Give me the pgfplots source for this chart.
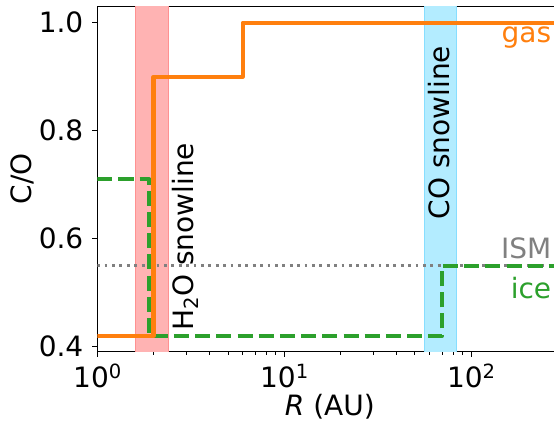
\documentclass[border=0pt]{standalone}
\usepackage{fontspec}
\setmainfont{DejaVu Sans}
\usepackage{pgfplots}
\pgfplotsset{compat=1.18}

\definecolor{gasorange}{HTML}{FF7F0E}
\definecolor{icegreen}{HTML}{2CA02C}
\definecolor{ismgray}{HTML}{808080}
\definecolor{hwband}{RGB}{255,179,179}
\definecolor{hwedge}{RGB}{255,145,145}
\definecolor{coband}{RGB}{179,236,255}
\definecolor{coedge}{RGB}{135,222,255}

\newcommand{\labelfont}{\fontsize{28}{33}\selectfont}
\newcommand{\tenpow}[1]{10\raisebox{9pt}{\fontsize{19.6}{22}\selectfont #1}}

\begin{document}
\begin{tikzpicture}[font=\labelfont]
\begin{axis}[
  name=ax,
  scale only axis,
  width=458.7pt, height=345.4pt,
  xmode=log, xmin=1, xmax=284.7,
  ymin=0.3907, ymax=1.0304,
  xtick={1,10,100},
  xticklabels={\tenpow{0},\tenpow{1},\tenpow{2}},
  ytick={0.4,0.6,0.8,1.0},
  yticklabels={0.4,0.6,0.8,1.0},
  tick align=outside,
  tick pos=left,
  major tick length=5pt,
  minor tick length=3pt,
  every tick/.style={black, line width=1.1pt},
  every minor tick/.append style={line width=0.85pt},
  axis line style={black, line width=1.1pt},
  tick label style={font=\labelfont},
  xticklabel style={anchor=base, inner sep=0pt, yshift=-31pt},
  yticklabel style={anchor=east, inner sep=0pt, xshift=-8.8pt},
  xlabel={\textit{R} (AU)},
  ylabel={C/O},
  every axis x label/.style={at={(axis description cs:0.507,-0.1833)}, anchor=base, inner sep=0pt, font=\labelfont},
  every axis y label/.style={at={(axis description cs:-0.1635,0.5)}, rotate=90, anchor=center, inner sep=0pt, font=\labelfont},
]

% snowline bands
\addplot[fill=hwband, draw=hwedge, line width=0.9pt]
  coordinates {(1.6,0.3) (2.4,0.3) (2.4,1.1) (1.6,1.1)} -- cycle;
\addplot[fill=coband, draw=coedge, line width=0.9pt]
  coordinates {(56,0.3) (84,0.3) (84,1.1) (56,1.1)} -- cycle;

% ISM reference value
\addplot[ismgray, line width=2.8pt, dash pattern=on 2.8pt off 4.6pt]
  coordinates {(1,0.55) (300,0.55)};

% ice C/O
\addplot[icegreen, line width=4.2pt, dash pattern=on 15pt off 6.2pt, line join=round]
  coordinates {(1,0.71) (1.9,0.71) (1.9,0.42) (70,0.42) (70,0.55) (300,0.55)};

% gas C/O
\addplot[gasorange, line width=4.2pt, line join=round]
  coordinates {(1,0.42) (2.0,0.42) (2.0,0.9) (6.0,0.9) (6.0,1.0) (300,1.0)};

\node[gasorange, anchor=base east, inner sep=0pt] at (axis cs:269,0.964) {gas};
\node[ismgray, anchor=base east, inner sep=0pt] at (axis cs:269,0.5624) {ISM};
\node[icegreen, anchor=base east, inner sep=0pt] at (axis cs:269,0.490) {ice};

\node[rotate=90, anchor=base west, inner sep=0pt] at (axis cs:3.29,0.430)
  {H\raisebox{-4.5pt}{\fontsize{19.6}{22}\selectfont 2}O snowline};
\node[rotate=90, anchor=base west, inner sep=0pt] at (axis cs:77.1,0.6356)
  {CO snowline};
\end{axis}
\pgfresetboundingbox
\path[use as bounding box] ([shift={(-97.3pt,-71.3pt)}]ax.south west)
  rectangle ([shift={(-2pt,6.3pt)}]ax.north east);
\end{tikzpicture}
\end{document}
